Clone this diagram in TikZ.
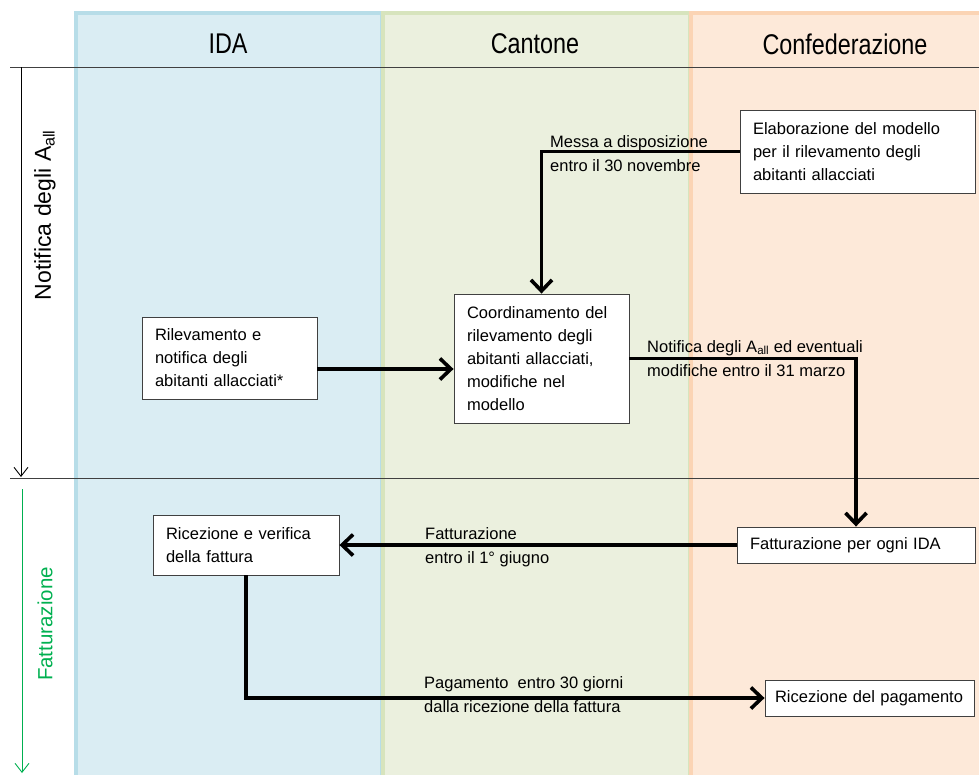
\documentclass[tikz,border=0pt]{standalone}
\usepackage{fontspec}
\setmainfont{Liberation Sans}
\newfontfamily\narrowfont{Liberation Sans}[FakeStretch=0.82]
\usetikzlibrary{arrows.meta}

\definecolor{idafill}{HTML}{DAEDF3}
\definecolor{idaedge}{HTML}{B7DDE8}
\definecolor{cantfill}{HTML}{EBF0DE}
\definecolor{cantedge}{HTML}{D7E4BD}
\definecolor{conffill}{HTML}{FDE9D9}
\definecolor{confedge}{HTML}{FBD4B4}
\definecolor{phasegreen}{HTML}{00B050}
\definecolor{rulegray}{HTML}{404040}

\newcommand{\boxfont}{\fontsize{16.5}{23}\selectfont}
\newcommand{\labelfont}{\fontsize{16.5}{24}\selectfont}

\tikzset{
  lane/.style={line width=3.5pt},
  lanehead/.style={font=\narrowfont\fontsize{28.5}{30}\selectfont},
  stepbox/.style={draw=rulegray, fill=white, line width=0.9pt, align=left,
    inner xsep=13pt, inner ysep=0pt, font=\boxfont},
  flow/.style={line width=3.6pt, -{Straight Barb[length=11pt,width=21pt]}},
  flowlabel/.style={anchor=west, align=left, inner sep=0pt, font=\labelfont},
  phase/.style={line width=0.9pt, -{Straight Barb[length=9pt,width=14pt]}}
}

\begin{document}
\begin{tikzpicture}[x=1pt, y=-1pt]
  \useasboundingbox (0,0) rectangle (979,774);
  \clip (0,0) rectangle (979,774);

  % Swim lanes
  \draw[lane, draw=idaedge, fill=idafill] (76,13) rectangle (382,790);
  \draw[lane, draw=cantedge, fill=cantfill] (383,13) rectangle (690,790);
  \draw[lane, draw=confedge, fill=conffill] (691,13) rectangle (1000,790);
  \node[lanehead] (hida) at (228,44) {IDA};
  \node[lanehead] (hcant) at (535,44) {Cantone};
  \node[lanehead] (hconf) at (845,44) {Confederazione};

  % Phase rules
  \draw[rulegray, line width=1pt] (10,67) -- (979,67);
  \draw[rulegray, line width=1pt] (10,478) -- (979,478);

  % Phases
  \coordinate (notiftop) at (21,67);
  \coordinate (notifend) at (21,477);
  \coordinate (fatttop) at (22,489);
  \coordinate (fattend) at (22,773);
  \draw[phase] (notiftop) -- (notifend);
  \draw[phase, phasegreen] (fatttop) -- (fattend);
  \node[rotate=90, font=\fontsize{23}{25}\selectfont] (notiflabel) at (45,215)
    {Notifica degli A\textsubscript{all}};
  \node[rotate=90, phasegreen, font=\fontsize{20.5}{22}\selectfont] (fattlabel) at (45,624)
    {Fatturazione};

  % Steps
  \node[stepbox, text width=209pt, minimum height=83pt] (elab) at (857.5,151.5)
    {Elaborazione del modello\\per il rilevamento degli\\abitanti allacciati};
  \node[stepbox, text width=149pt, minimum height=129pt] (coord) at (541.5,358.5)
    {Coordinamento del\\rilevamento degli\\abitanti allacciati,\\modifiche nel\\modello};
  \node[stepbox, text width=149pt, minimum height=82pt] (rilev) at (229.5,358)
    {Rilevamento e\\notifica degli\\abitanti allacciati*};
  \node[stepbox, text width=212pt, minimum height=36pt] (fattura) at (856,545)
    {Fatturazione per ogni IDA};
  \node[stepbox, text width=160pt, minimum height=60pt] (ricev) at (246,545)
    {Ricezione e verifica\\della fattura};
  \node[stepbox, inner xsep=10pt, text width=189pt, minimum height=36pt] (pagam) at (869.5,698)
    {Ricezione del pagamento};

  % Flows
  \draw[flow] (elab.west) -| (coord.north);
  \draw[flow] ([yshift=-11pt]rilev.east) -- ([yshift=-11pt]rilev.east -| coord.west);
  \draw[flow] (coord.east) -| (fattura.north);
  \draw[flow] (fattura.west) -- (ricev.east);
  \draw[flow] (ricev.south) |- (pagam.west);

  % Flow labels
  \node[flowlabel] (lmessa) at (550,153.5)
    {Messa a disposizione\\entro il 30 novembre};
  \node[flowlabel] (lnotif) at (647,358.5)
    {Notifica degli A\textsubscript{all} ed eventuali\\modifiche entro il 31 marzo};
  \node[flowlabel] (lfatt) at (425,547)
    {Fatturazione\\entro il 1° giugno};
  \node[flowlabel] (lpaga) at (424,695)
    {Pagamento\ \ entro 30 giorni\\dalla ricezione della fattura};
\end{tikzpicture}
\end{document}
